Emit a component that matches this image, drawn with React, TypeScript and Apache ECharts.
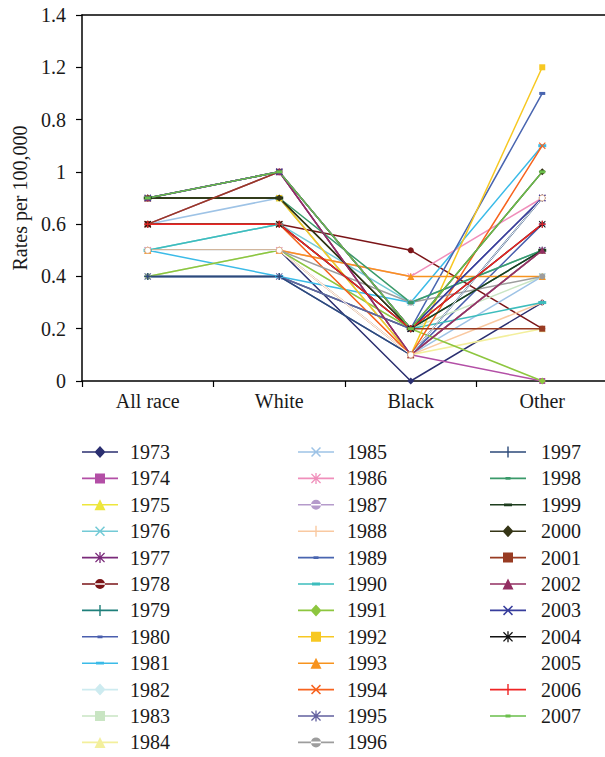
import React, { useEffect, useRef } from "react";
import * as echarts from "echarts";

const categories = ["All race", "White", "Black", "Other"];
const years = [
  "1973", "1974", "1975", "1976", "1977", "1978", "1979", "1980", "1981", "1982", "1983", "1984",
  "1985", "1986", "1987", "1988", "1989", "1990", "1991", "1992", "1993", "1994", "1995", "1996",
  "1997", "1998", "1999", "2000", "2001", "2002", "2003", "2004", "2005", "2006", "2007",
];
// values per year (same order as years), read at the plotted positions
const allRace = [0.5, 0.6, 0.7, 0.5, 0.7, 0.6, 0.4, 0.4, 0.5, 0.5, 0.4, 0.5, 0.6, 0.5, 0.5, 0.5, 0.7, 0.5, 0.4, 0.7, 0.5, 0.6, 0.4, 0.5, 0.4, 0.7, 0.7, 0.7, 0.6, 0.7, 0.7, 0.6, 0.5, 0.6, 0.7];
const white = [0.5, 0.8, 0.7, 0.6, 0.8, 0.6, 0.4, 0.4, 0.4, 0.5, 0.5, 0.5, 0.7, 0.5, 0.5, 0.5, 0.8, 0.6, 0.5, 0.7, 0.5, 0.6, 0.4, 0.5, 0.4, 0.7, 0.7, 0.7, 0.8, 0.8, 0.8, 0.6, 0.5, 0.6, 0.8];
const black = [0, 0.1, 0.1, 0.3, 0.1, 0.5, 0.2, 0.1, 0.3, 0.1, 0.2, 0.1, 0.1, 0.4, 0.1, 0.1, 0.2, 0.2, 0.2, 0.1, 0.4, 0.1, 0.2, 0.3, 0.1, 0.3, 0.2, 0.2, 0.2, 0.1, 0.2, 0.2, 0.1, 0.2, 0.2];
const other = [0.3, 0, 0.5, 0.5, 0.5, 0.2, 0.5, 0.6, 0.9, 0.7, 0.4, 0.2, 0.4, 0.7, 0.5, 0.3, 1.1, 0.3, 0, 1.2, 0.4, 0.9, 0.7, 0.4, 0.7, 0.5, 0.5, 0.8, 0.2, 0.5, 0.7, 0.6, 0.7, 0.6, 0.8];
const yTickLabels = ["0", "0.2", "0.4", "0.6", "1", "0.8", "1.2", "1.4"];

const colors = [
  "#2b2f70", "#b34fa6", "#ede63c", "#73cad6", "#7a2a7a", "#7b1518", "#1e7f7a", "#4a5fae", "#3bbbe8",
  "#cdebf0", "#c9e5c3", "#f3ef9c", "#9ec3e6", "#f08fbb", "#b59bcb", "#f9c9a1", "#4965b0", "#3dbdbd",
  "#8dc63f", "#f7c822", "#f7931e", "#f7631e", "#62609f", "#9d9d9d", "#2d4a7a", "#3a9a6a", "#1d3d1d",
  "#353516", "#983b22", "#932f62", "#373d9c", "#111111", "#ffffff", "#ef2424", "#6abf4b",
];
const markerCycle = ["diamond", "square", "triangle", "x", "star", "circle", "plus", "dash", "longdash"];

function xPoly(cx: number, cy: number, r: number, t: number): string {
  const d = t * 0.7071;
  const pts = [
    [cx - r, cy - r + d], [cx - r + d, cy - r], [cx, cy - d], [cx + r - d, cy - r], [cx + r, cy - r + d],
    [cx + d, cy], [cx + r, cy + r - d], [cx + r - d, cy + r], [cx, cy + d], [cx - r + d, cy + r],
    [cx - r, cy + r - d], [cx - d, cy],
  ];
  return "M" + pts.map((p) => p[0].toFixed(2) + "," + p[1].toFixed(2)).join("L") + "Z";
}

const chartSymbol: Record<string, any> = {
  diamond: { symbol: "diamond", size: 7 },
  square: { symbol: "rect", size: 6 },
  triangle: { symbol: "triangle", size: 7 },
  x: { symbol: "path://" + xPoly(5, 5, 5, 1.6), size: 7 },
  star: { symbol: "path://" + xPoly(5, 5, 5, 1.4) + "M4.3,0H5.7V10H4.3Z", size: 7 },
  circle: { symbol: "circle", size: 6 },
  plus: { symbol: "path://M4.2,0H5.8V4.2H10V5.8H5.8V10H4.2V5.8H0V4.2H4.2Z", size: 7 },
  dash: { symbol: "path://M0,0H10V4H0Z", size: [6, 3] },
  longdash: { symbol: "path://M0,0H10V4H0Z", size: [8, 3] },
};

const LINE = "M0,6.2H36V7.8H0Z";
const legendMarker: Record<string, string> = {
  diamond: "M18,1L23.5,7L18,13L12.5,7Z",
  square: "M13,2H23V12H13Z",
  triangle: "M18,1.5L23.5,12.5L12.5,12.5Z",
  x: xPoly(18, 7, 5, 1.5),
  star: xPoly(18, 7, 5, 1.3) + "M17.35,1.5H18.65V12.5H17.35Z",
  circle: "M13,7A5,5 0 1,0 23,7A5,5 0 1,0 13,7Z",
  plus: "M17.3,1.5H18.7V12.5H17.3Z",
  dash: "M15.5,5.6H20.5V8.4H15.5Z",
  longdash: "M14,5.6H22V8.4H14Z",
};

const FONT = "Liberation Serif";

export default function App() {
  const ref = useRef<HTMLDivElement>(null);
  useEffect(() => {
    if (!ref.current) return;
    const chart = echarts.init(ref.current, undefined, { renderer: "svg" });

    const series: any[] = years.map((y, i) => {
      const m = markerCycle[i % markerCycle.length];
      const s = chartSymbol[m];
      const isBlank = y === "2005";
      return {
        name: y,
        type: "line",
        data: [allRace[i], white[i], black[i], other[i]],
        symbol: s.symbol,
        symbolSize: s.size,
        showAllSymbol: true,
        lineStyle: { color: colors[i], width: isBlank ? 1 : 1.5 },
        itemStyle: isBlank
          ? { color: "#ffffff", borderColor: "#e6a77a", borderWidth: 0.8 }
          : { color: colors[i] },
        emphasis: { disabled: true },
        silent: true,
      };
    });

    const legendItem = (i: number) => {
      const m = markerCycle[i % markerCycle.length];
      const item: any = { name: years[i], icon: "path://" + LINE + legendMarker[m] };
      if (years[i] === "2005") {
        item.itemStyle = { color: "rgba(0,0,0,0)", borderWidth: 0, borderColor: "rgba(0,0,0,0)" };
      }
      return item;
    };
    const col = (from: number, to: number) => {
      const out: any[] = [];
      for (let i = from; i < to; i++) out.push(legendItem(i));
      return out;
    };
    const legendBase = (left: number, padLeft: number, data: any[]) => ({
      left,
      top: 442,
      width: 110,
      height: 400,
      orient: "vertical",
      padding: 0,
      itemWidth: 36,
      itemHeight: 14,
      itemGap: 6.4,
      selectedMode: false,
      data,
      textStyle: { fontFamily: FONT, fontSize: 20, color: "#1a1a1a", padding: [0, 0, 0, padLeft] },
    });

    chart.setOption({
      animation: false,
      backgroundColor: "#ffffff",
      grid: { left: 82, top: 15, width: 526, height: 366, containLabel: false, outerBoundsMode: "none" },
      xAxis: [
        {
          type: "category",
          data: categories,
          boundaryGap: true,
          axisLine: { show: true, lineStyle: { color: "#000", width: 1.5 } },
          axisTick: { show: true, length: 6, alignWithLabel: false, lineStyle: { color: "#000", width: 1.2 } },
          axisLabel: { fontFamily: FONT, fontSize: 20, color: "#1a1a1a", margin: 10 },
          splitLine: { show: false },
        },
        {
          type: "category",
          data: categories,
          position: "top",
          axisLine: { show: true, lineStyle: { color: "#000", width: 1.5 } },
          axisTick: { show: false },
          axisLabel: { show: false },
          splitLine: { show: false },
        },
      ],
      yAxis: {
        type: "value",
        min: 0,
        max: 1.4,
        interval: 0.2,
        name: "Rates per 100,000",
        nameLocation: "middle",
        nameGap: 50,
        nameTextStyle: { fontFamily: FONT, fontSize: 20, color: "#1a1a1a" },
        axisLine: { show: true, lineStyle: { color: "#000", width: 1.5 } },
        axisTick: { show: true, length: 6, lineStyle: { color: "#000", width: 1.2 } },
        axisLabel: {
          fontFamily: FONT,
          fontSize: 20,
          color: "#1a1a1a",
          margin: 16,
          formatter: (v: number) => yTickLabels[Math.round(v / 0.2)],
        },
        splitLine: { show: false },
      },
      legend: [
        legendBase(82, 7, col(0, 12)),
        legendBase(298, 8, col(12, 24)),
        legendBase(490, 10, col(24, 35)),
      ],
      series,
    });
    return () => chart.dispose();
  }, []);
  return (
    <div
      ref={ref}
      style={{ position: "fixed", left: 0, top: 0, width: 605, height: 757, background: "#fff" }}
    />
  );
}
